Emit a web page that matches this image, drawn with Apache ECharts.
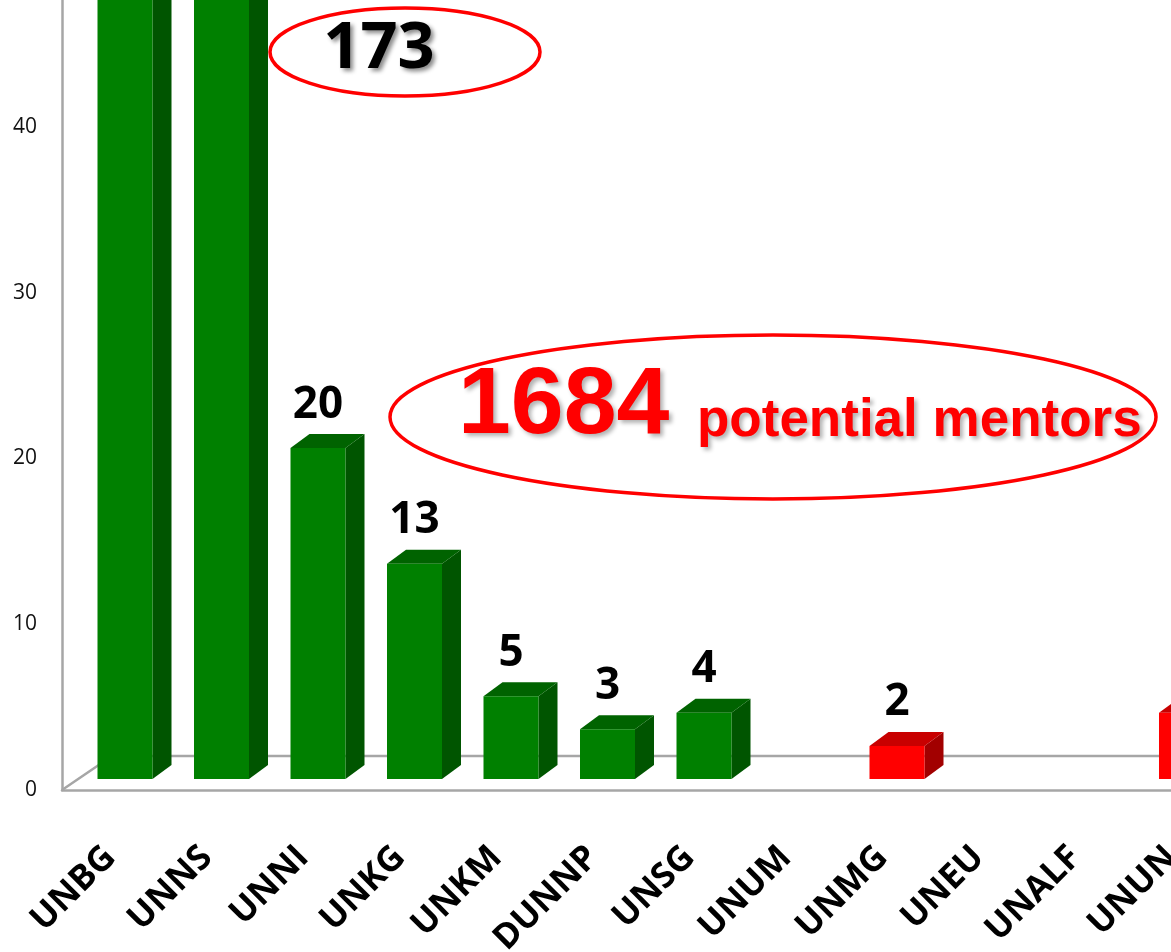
<!DOCTYPE html>
<html>
<head>
<meta charset="utf-8">
<script src="https://cdn.jsdelivr.net/npm/echarts@6/dist/echarts.min.js"></script>
<style>
html, body { margin: 0; padding: 0; background: #fff; }
#main { width: 1171px; height: 952px; }
</style>
</head>
<body>
<div id="main"></div>
<script>
// univerziteti
var categories = ['UNBG', 'UNNS', 'UNNI', 'UNKG', 'UNKM', 'DUNNP', 'UNSG', 'UNUM', 'UNMG', 'UNEU', 'UNALF', 'UNUN'];
// broj mentora; UNBG i UNNS izlaze iz slike (173 u krugu, ostatak do 1684)
var mentors = [1460, 173, 20, 13, 5, 3, 4, 0, 2, 0, 0, 4];
// privatni univerziteti (crveni stubovi)
var privateUni = [false, false, false, false, false, false, false, false, true, true, true, true];
var yTicks = [0, 10, 20, 30, 40, 50];

var myChart = echarts.init(document.getElementById('main'));

// 3D stub: prednja strana, bocna strana i poklopac
function renderBar(params, api) {
    var i = api.value(0);
    var v = api.value(1);
    if (!v) {
        return { type: 'group', children: [] };
    }
    var base = api.coord([i, 0]);
    var top = api.coord([i, v]);
    var w = api.size([1, 0])[0] * 0.57;
    var dx = 19, dy = 14;
    var x0 = base[0] - w / 2, x1 = base[0] + w / 2;
    var yb = base[1], yt = top[1];
    var red = privateUni[i];
    var front = red ? '#ff0000' : '#008000';
    var side = red ? '#a20000' : '#005500';
    var lid = red ? '#c80000' : '#006300';
    return {
        type: 'group',
        children: [
            { type: 'polygon', shape: { points: [[x1, yt], [x1 + dx, yt - dy], [x1 + dx, yb - dy], [x1, yb]] }, style: { fill: side } },
            { type: 'polygon', shape: { points: [[x0, yt], [x0 + dx, yt - dy], [x1 + dx, yt - dy], [x1, yt]] }, style: { fill: lid } },
            { type: 'rect', shape: { x: x0, y: yt, width: w, height: yb - yt }, style: { fill: front } },
            { type: 'text', style: { text: String(v), x: base[0], y: yt - 43, align: 'center', verticalAlign: 'middle', font: 'bold 44px "Open Sans"', fill: '#000' } }
        ]
    };
}

// pod: dijagonala i zadnja ivica
function renderFloor(params, api) {
    var cs = params.coordSys;
    var y0 = api.coord([0, 0])[1];
    var x0 = cs.x;
    var right = cs.x + cs.width;
    return {
        type: 'polyline',
        shape: { points: [[x0, y0], [x0 + 50, y0 - 34], [right, y0 - 34]] },
        style: { stroke: '#a6a6a6', lineWidth: 2.5, fill: null }
    };
}

var option = {
    animation: false,
    backgroundColor: '#fff',
    grid: [
        { left: 62, right: -49, top: -38.75, bottom: 162, containLabel: false, outerBoundsMode: 'none' },
        { left: 76.75, right: -63.75, top: -48.5, bottom: 173, containLabel: false, outerBoundsMode: 'none' }
    ],
    xAxis: [
        {
            type: 'category', gridIndex: 0, data: categories,
            axisLine: { show: true, lineStyle: { color: '#a6a6a6', width: 2.5 } },
            axisTick: { show: false },
            axisLabel: {
                interval: 0, rotate: 45, margin: 62,
                fontFamily: 'Open Sans', fontWeight: 'bold', fontSize: 35, color: '#000'
            }
        },
        { type: 'category', gridIndex: 1, data: categories, show: false }
    ],
    yAxis: [
        {
            type: 'value', gridIndex: 0, min: yTicks[0], max: yTicks[yTicks.length - 1], interval: 10,
            axisLine: { show: true, lineStyle: { color: '#a6a6a6', width: 2.5 } },
            axisTick: { show: false },
            splitLine: { show: false },
            axisLabel: { margin: 25, fontFamily: 'Open Sans', fontSize: 21, color: '#111' }
        },
        { type: 'value', gridIndex: 1, min: yTicks[0], max: yTicks[yTicks.length - 1], show: false }
    ],
    graphic: [
        { type: 'ellipse', shape: { cx: 405, cy: 52, rx: 135, ry: 44 }, style: { fill: null, stroke: '#ff0000', lineWidth: 3.5 }, z: 10 },
        { type: 'text', style: { text: '173', x: 379, y: 49, align: 'center', verticalAlign: 'middle', font: 'bold 65px "Open Sans"', fill: '#000', textShadowColor: 'rgba(0,0,0,0.45)', textShadowBlur: 4, textShadowOffsetX: 3, textShadowOffsetY: 3 }, z: 10 },
        { type: 'ellipse', shape: { cx: 773, cy: 417, rx: 383, ry: 82 }, style: { fill: null, stroke: '#ff0000', lineWidth: 3.5 }, z: 10 },
        { type: 'text', style: { text: '1684', x: 458, y: 407, align: 'left', verticalAlign: 'middle', font: 'bold 95px "Liberation Sans"', fill: '#ff0000', textShadowColor: 'rgba(0,0,0,0.3)', textShadowBlur: 4, textShadowOffsetX: 3, textShadowOffsetY: 3 }, z: 10 },
        { type: 'text', style: { text: 'potential mentors', x: 697, y: 421, align: 'left', verticalAlign: 'middle', font: 'bold 53px "Liberation Sans"', fill: '#ff0000', textShadowColor: 'rgba(0,0,0,0.3)', textShadowBlur: 4, textShadowOffsetX: 3, textShadowOffsetY: 3 }, z: 10 }
    ],
    series: [
        {
            type: 'custom', name: 'pod', xAxisIndex: 0, yAxisIndex: 0,
            renderItem: renderFloor, data: [[0, 0]], silent: true, z: 1
        },
        {
            type: 'custom', name: 'mentori', xAxisIndex: 1, yAxisIndex: 1,
            renderItem: renderBar,
            encode: { x: 0, y: 1 },
            data: mentors.map(function (v, i) { return [i, v]; }),
            z: 2
        }
    ]
};
myChart.setOption(option);
</script>
</body>
</html>
